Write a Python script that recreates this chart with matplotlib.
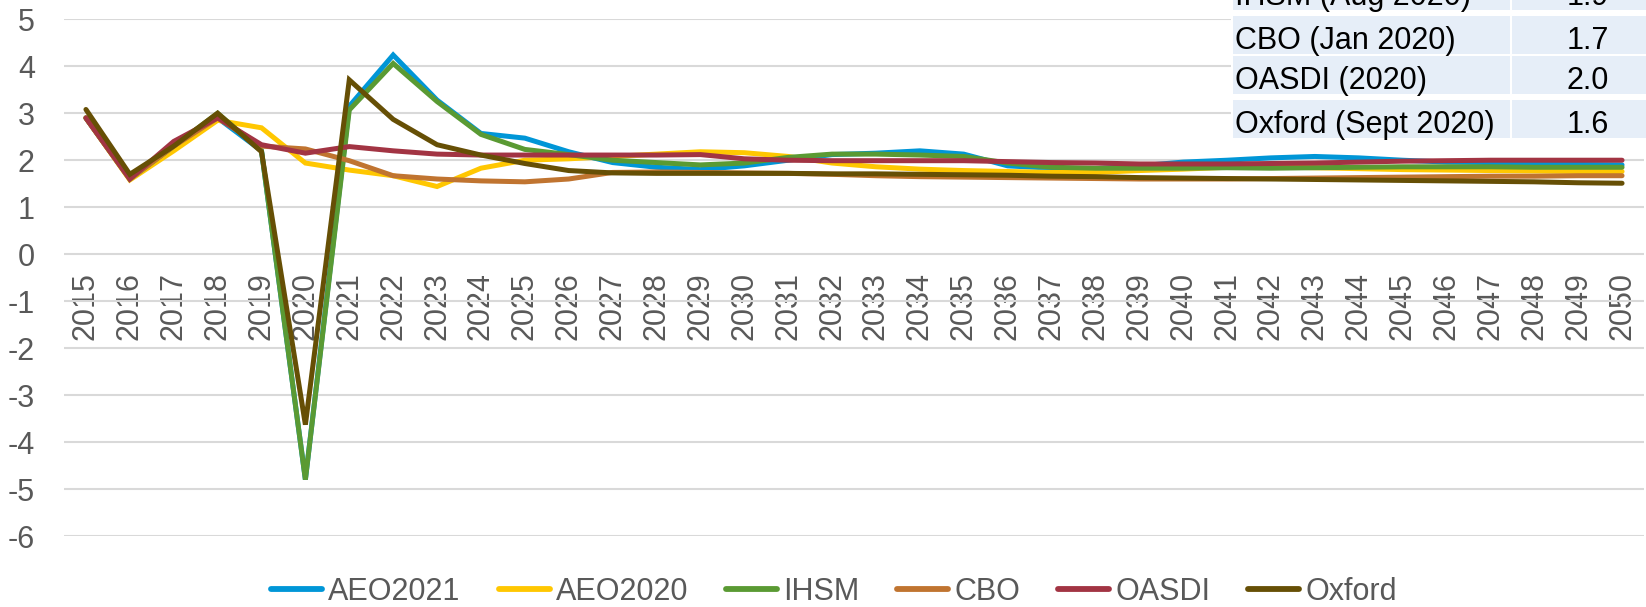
import matplotlib
matplotlib.use("Agg")
import matplotlib.pyplot as plt
from matplotlib.patches import Rectangle

plt.rcParams['font.family'] = ['Liberation Sans', 'DejaVu Sans']

years = list(range(2015, 2051))

aeo2021 = [2.9, 1.6, 2.3, 2.9, 2.2, -4.8, 3.15, 4.24, 3.28, 2.57, 2.47, 2.18,
           1.95, 1.85, 1.80, 1.88, 2.00, 2.12, 2.15, 2.20, 2.13, 1.88, 1.83, 1.82,
           1.88, 1.96, 2.00, 2.05, 2.08, 2.05, 2.00, 1.96, 1.95, 1.93, 1.91, 1.90]
aeo2020 = [2.9, 1.58, 2.2, 2.85, 2.69, 1.94, 1.79, 1.67, 1.44, 1.83, 2.00, 2.03,
           2.08, 2.13, 2.18, 2.16, 2.08, 1.94, 1.86, 1.81, 1.78, 1.76, 1.74, 1.74,
           1.78, 1.81, 1.85, 1.86, 1.84, 1.82, 1.80, 1.79, 1.78, 1.77, 1.76, 1.76]
ihsm = [2.9, 1.6, 2.3, 3.0, 2.2, -4.8, 3.07, 4.06, 3.25, 2.55, 2.23, 2.12,
        2.00, 1.95, 1.90, 1.94, 2.06, 2.13, 2.13, 2.11, 2.08, 1.94, 1.85, 1.83,
        1.83, 1.83, 1.84, 1.83, 1.84, 1.85, 1.86, 1.86, 1.86, 1.85, 1.85, 1.85]
cbo = [2.9, 1.6, 2.3, 2.9, 2.3, 2.24, 1.99, 1.67, 1.60, 1.56, 1.54, 1.60,
       1.74, 1.75, 1.74, 1.73, 1.72, 1.70, 1.67, 1.65, 1.64, 1.63, 1.62, 1.61,
       1.60, 1.60, 1.60, 1.61, 1.62, 1.63, 1.64, 1.65, 1.66, 1.66, 1.67, 1.67]
oasdi = [2.9, 1.6, 2.4, 2.9, 2.33, 2.15, 2.29, 2.20, 2.13, 2.11, 2.11, 2.11,
         2.11, 2.11, 2.12, 2.03, 2.00, 1.99, 1.99, 1.99, 1.99, 1.97, 1.95, 1.94,
         1.92, 1.92, 1.92, 1.93, 1.94, 1.96, 1.98, 1.99, 2.00, 2.00, 2.00, 2.00]
oxford = [3.08, 1.7, 2.3, 3.0, 2.18, -3.63, 3.71, 2.87, 2.33, 2.11, 1.93, 1.78,
          1.73, 1.72, 1.72, 1.72, 1.72, 1.71, 1.71, 1.70, 1.69, 1.68, 1.66, 1.65,
          1.63, 1.62, 1.61, 1.60, 1.59, 1.58, 1.57, 1.56, 1.55, 1.54, 1.52, 1.51]

series_names = ["AEO2021", "AEO2020", "IHSM", "CBO", "OASDI", "Oxford"]
series_values = [aeo2021, aeo2020, ihsm, cbo, oasdi, oxford]
series_colors = ["#0096D7", "#FFC701", "#5A9A33", "#C07430", "#A23443", "#664F05"]

table_labels = ["IHSM (Aug 2020)", "CBO (Jan 2020)", "OASDI (2020)", "Oxford (Sept 2020)"]
table_values = ["1.9", "1.7", "2.0", "1.6"]

yticks = list(range(-6, 6))

W, H = 1646, 607
fig = plt.figure(figsize=(W / 100, H / 100), dpi=100)
ax = fig.add_axes([64 / W, 71 / H, 1580 / W, 516.7 / H])

x = list(range(len(years)))
for name, vals, col in zip(series_names, series_values, series_colors):
    ax.plot(x, vals, color=col, lw=3.6, label=name,
            solid_capstyle='round', solid_joinstyle='miter')

# category axis crosses at zero; labels hang just below that line
for s in ['top', 'right', 'left']:
    ax.spines[s].set_visible(False)
ax.spines['bottom'].set_position(('data', 0))
ax.spines['bottom'].set_color('none')

ax.set_xlim(-0.5, len(years) - 0.5)
ax.set_ylim(-6, 5)
ax.set_yticks(yticks)
ax.set_yticklabels([str(v) for v in yticks])
ax.set_xticks(x)
ax.set_xticklabels([str(y) for y in years], rotation=90)
ax.grid(axis='y', color='#D9D9D9', lw=1.5, zorder=0)
ax.set_axisbelow(True)
ax.tick_params(axis='y', length=0, pad=21, labelsize=22, labelcolor='#595959')
ax.tick_params(axis='x', length=0, pad=13, labelsize=22, labelcolor='#595959',
               labelrotation=90)

leg = fig.legend(loc='center', bbox_to_anchor=(834 / W, 1 - 592 / H), ncol=6,
                 frameon=False, fontsize=22, handlelength=1.67,
                 handletextpad=0.2, columnspacing=1.24)
for t in leg.get_texts():
    t.set_color('#595959')
for h in leg.get_lines():
    h.set_linewidth(4.2)
    h.set_solid_capstyle('round')

# Summary table in the upper right corner (pixel layout, top rows run off the figure)
def px_rect(x0, y0, w, h, color):
    fig.add_artist(Rectangle((x0 / W, 1 - (y0 + h) / H), w / W, h / H,
                             transform=fig.transFigure, facecolor=color,
                             edgecolor='none', zorder=5))

row_tops = [-28, 16, 56, 100]
row_h = 38
px_rect(1231, -40, 420, 180, 'white')
for top, lab, val in zip(row_tops, table_labels, table_values):
    px_rect(1233, top, 277, row_h, '#E6EEF8')
    px_rect(1512, top, 140, row_h, '#E6EEF8')
    yc = 1 - (top + row_h / 2 + 6) / H
    fig.text(1235 / W, yc, lab, fontsize=22, color='black', ha='left',
             va='center', zorder=6)
    fig.text(1588 / W, yc, val, fontsize=22, color='black', ha='center',
             va='center', zorder=6)

fig.savefig("out.png", dpi=100)
